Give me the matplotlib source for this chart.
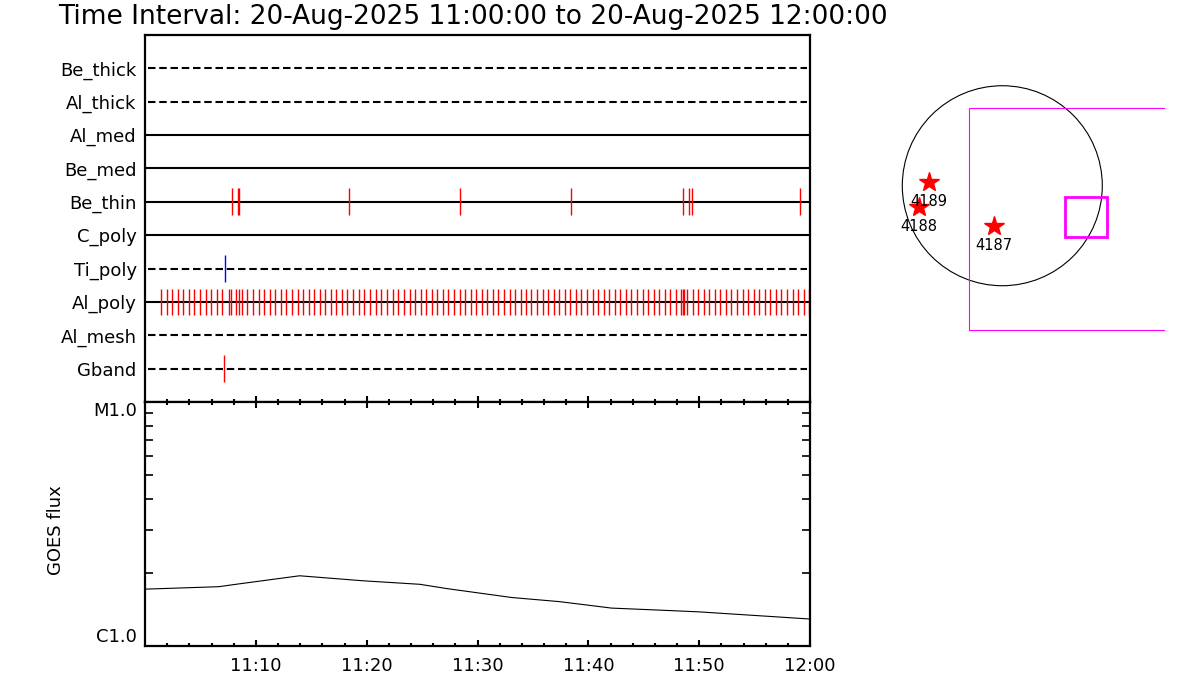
import numpy as np
import matplotlib
matplotlib.use("Agg")
import matplotlib.pyplot as plt
from matplotlib.patches import Circle, Rectangle

plt.rcParams['font.family'] = ['DejaVu Sans']

title = "Time Interval: 20-Aug-2025 11:00:00 to 20-Aug-2025 12:00:00"

# filter rows, top to bottom
rows = ["Be_thick", "Al_thick", "Al_med", "Be_med", "Be_thin",
        "C_poly", "Ti_poly", "Al_poly", "Al_mesh", "Gband"]
dashed = [True, True, False, False, False, False, True, False, True, True]

# event times, minutes after 11:00
be_thin_t = [7.89, 8.36, 8.51, 18.45, 28.46, 38.48, 48.58, 49.05, 49.32, 59.09]
ti_poly_t = [7.25]
gband_t = [7.17]
al_poly_t = [1.47, 1.96, 2.47, 2.95, 3.46, 3.97, 4.45, 4.96, 5.48, 5.95,
             6.47, 6.97, 7.61, 7.79, 8.24, 8.48, 8.75, 9.23, 9.74, 10.26,
             10.74, 11.25, 11.76, 12.24, 12.75, 13.26, 13.78, 14.26, 14.77, 15.25,
             15.76, 16.27, 16.78, 17.26, 17.77, 18.25, 18.77, 19.28, 19.76, 20.30,
             20.82, 21.33, 21.84, 22.35, 22.85, 23.36, 23.87, 24.36, 24.87, 25.38,
             25.87, 26.37, 26.88, 27.36, 27.88, 28.39, 28.87, 29.38, 29.89, 30.37,
             30.88, 31.39, 31.87, 32.38, 32.89, 33.37, 33.88, 34.39, 34.87, 35.38,
             35.89, 36.37, 36.88, 37.39, 37.87, 38.38, 38.89, 39.37, 39.88, 40.39,
             40.87, 41.38, 41.89, 42.38, 42.88, 43.40, 43.88, 44.39, 44.91, 45.39,
             45.90, 46.40, 46.89, 47.40, 47.92, 48.39, 48.52, 48.64, 48.91, 49.42,
             49.90, 50.41, 50.93, 51.41, 51.92, 52.43, 52.91, 53.42, 53.93, 54.41,
             54.92, 55.43, 55.91, 56.42, 56.93, 57.41, 57.92, 58.43, 58.91, 59.42,
             59.93]
events = {"Be_thin": (be_thin_t, "red"),
          "Ti_poly": (ti_poly_t, "blue"),
          "Al_poly": (al_poly_t, "red"),
          "Gband": (gband_t, "red")}

# GOES flux
goes_t = [0.0, 6.65, 8.2, 13.95, 19.7, 24.8, 27.2, 33.1, 37.4, 42.1, 46.9, 50.0, 60.0]
goes_f = [1.71e-6, 1.75e-6, 1.79e-6, 1.94e-6, 1.85e-6, 1.79e-6, 1.72e-6,
          1.58e-6, 1.52e-6, 1.43e-6, 1.40e-6, 1.38e-6, 1.29e-6]

xticks = [10, 20, 30, 40, 50, 60]
xticklabels = ["11:10", "11:20", "11:30", "11:40", "11:50", "12:00"]

# solar disk map (arcsec)
r_sun = 960
ar_names = ["4189", "4188", "4187"]
ar_x = [-701, -797, -80]
ar_y = [38, -207, -384]
fov_big = (-317, -1385, 4000, 2128)
fov_small = (602, -495, 400, 389)

fig = plt.figure(figsize=(12, 7), dpi=100)
fig.text(58/1200, 1 - 17/700, title, fontsize=19, va='center', ha='left')

ax1 = fig.add_axes([145/1200, (700-402)/700, 665/1200, 367/700])
ax2 = fig.add_axes([145/1200, (700-646)/700, 665/1200, 244/700])

n = len(rows)
ypos = np.arange(n, 0, -1)
for name, y, d in zip(rows, ypos, dashed):
    if d:
        ax1.plot([0.3, 59.7], [y, y], color='black', lw=1.5, dashes=(3.6, 1.8))
    else:
        ax1.plot([0, 60], [y, y], color='black', lw=1.5)
    if name in events:
        t, c = events[name]
        ax1.vlines(t, y - 0.4, y + 0.4, color=c, lw=1.0)

ax1.set_xlim(0, 60)
ax1.set_ylim(0, n + 1)
ax1.set_yticks(ypos)
ax1.set_yticklabels(rows, fontsize=13)
ax1.tick_params(axis='y', length=0, pad=6)
ax1.set_xticks(xticks)
ax1.set_xticks(np.arange(2, 60, 2), minor=True)
ax1.tick_params(axis='x', which='both', direction='in', labelbottom=False,
                width=1.5)
ax1.tick_params(axis='x', which='major', length=4)
ax1.tick_params(axis='x', which='minor', length=2)

ax2.plot(goes_t, goes_f, color='black', lw=0.8)
ax2.set_yscale('log')
ax2.set_ylim(1e-6, 1e-5)
ax2.set_xlim(0, 60)
ax2.set_yticks([1e-6, 1e-5])
ax2.set_yticklabels(["C1.0", "M1.0"], fontsize=13)
ylabs = ax2.get_yticklabels()
ylabs[0].set_va('bottom')
ylabs[1].set_va('top')
ax2.set_yticks([k*1e-6 for k in range(2, 10)], minor=True)
ax2.yaxis.set_minor_formatter(plt.NullFormatter())
ax2.tick_params(axis='y', which='both', direction='in', right=True, width=1.2, pad=6)
ax2.tick_params(axis='y', which='minor', length=6)
ax2.tick_params(axis='y', which='major', length=0)
ax2.set_xticks(xticks)
ax2.set_xticklabels(xticklabels, fontsize=13)
ax2.set_xticks(np.arange(2, 60, 2), minor=True)
ax2.tick_params(axis='x', which='both', direction='in', top=True, width=1.5, pad=8)
ax2.tick_params(axis='x', which='major', length=4)
ax2.tick_params(axis='x', which='minor', length=2)
ax2.set_ylabel("GOES flux", fontsize=13)
ax2.yaxis.set_label_coords(-80/665, 0.475)

for ax in (ax1, ax2):
    for s in ax.spines.values():
        s.set_linewidth(1.6)

ax3 = fig.add_axes([880/1200, (700-340)/700, 285/1200, 260/700])
ax3.set_xlim(-1174, 1562)
ax3.set_ylim(-1481, 1015)
ax3.axis('off')
ax3.add_patch(Circle((0, 0), r_sun, fill=False, ec='black', lw=0.8))
ax3.add_patch(Rectangle(fov_big[:2], fov_big[2], fov_big[3], fill=False,
                        ec='magenta', lw=0.8))
ax3.add_patch(Rectangle(fov_small[:2], fov_small[2], fov_small[3], fill=False,
                        ec='magenta', lw=2))
ax3.plot(ar_x, ar_y, ls='none', marker='*', ms=15, color='red')
for name, x, y in zip(ar_names, ar_x, ar_y):
    ax3.annotate(name, (x, y), xytext=(0, -14), textcoords='offset points',
                 ha='center', va='center', fontsize=10.5)

fig.savefig("out.png", dpi=100, facecolor='white')
